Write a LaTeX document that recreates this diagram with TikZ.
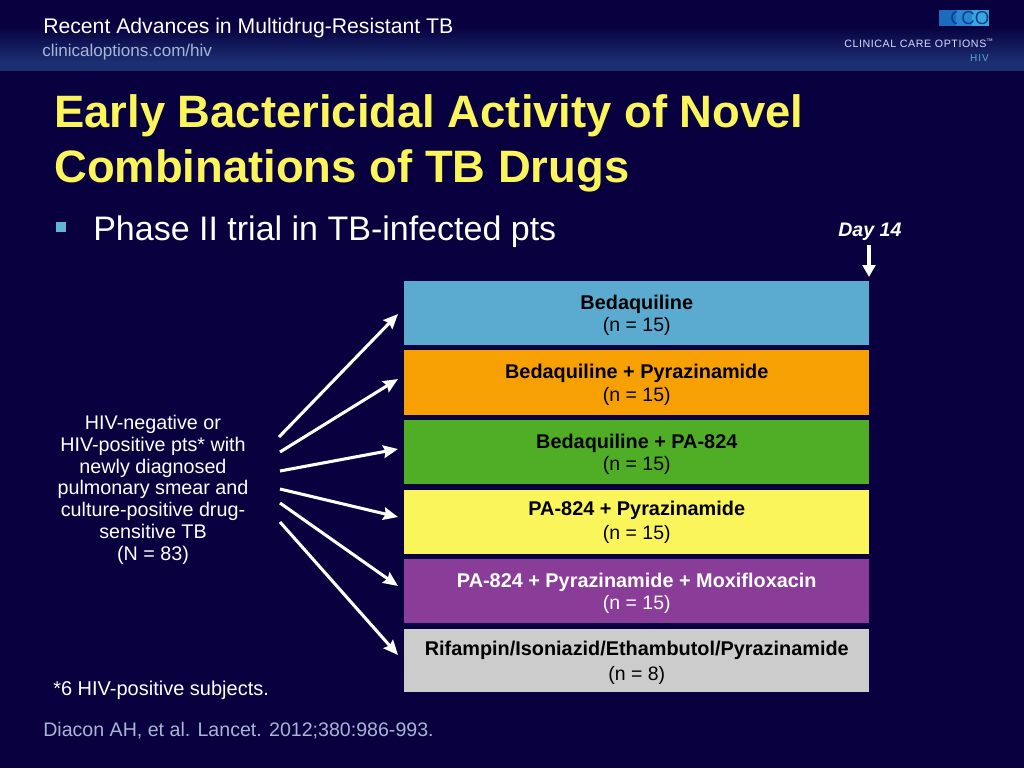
\documentclass[tikz,border=0pt]{standalone}
\usepackage{fontspec}
\setmainfont{Liberation Sans}
\usetikzlibrary{arrows.meta}
\definecolor{bgc}{HTML}{08003F}
\definecolor{hdr}{HTML}{1B2F72}
\definecolor{ttl}{HTML}{F9F55A}
\definecolor{subt}{HTML}{A9B4D6}
\definecolor{bull}{HTML}{62B5D6}
\definecolor{cblue}{HTML}{5BAACF}
\definecolor{corange}{HTML}{F7A004}
\definecolor{cgreen}{HTML}{4FAE26}
\definecolor{cyellow}{HTML}{F9F55A}
\definecolor{cpurple}{HTML}{8A3D98}
\definecolor{cgrey}{HTML}{CCCCCC}
\definecolor{lgo}{HTML}{1A6CBE}
\definecolor{lgb}{HTML}{2A86D2}
\definecolor{lgc}{HTML}{3BA6DE}
\definecolor{lgd}{HTML}{0B3F8C}
\tikzset{
  x=0.75pt,y=-0.75pt,
  armbox/.style={minimum width=348.75pt,inner sep=0pt,align=center,anchor=north west,text=black,font=\fontsize{14.6}{17}\selectfont},
  whitearrow/.style={draw=white,line width=2.3pt,-{Stealth[length=11pt,width=9.5pt,inset=1.5pt]}},
  plain/.style={inner sep=0pt,anchor=base west,text=white},
  logoletter/.style={inner sep=0pt,text=lgd,font=\fontsize{14}{14}\selectfont},
}
\newcommand{\armb}[1]{{\fontsize{14.9}{17}\selectfont\textbf{#1}}}
\newcommand{\armtext}[2]{\rule{0pt}{14pt}\armb{#1}\\#2}
\begin{document}
\begin{tikzpicture}
\useasboundingbox (0,0) rectangle (1024,768);
\fill[bgc] (0,0) rectangle (1024,768);
\shade[top color=bgc,bottom color=hdr] (0,26) rectangle (1024,62);
\fill[hdr] (0,62) rectangle (1024,71);

\node[plain,font=\fontsize{15.9}{18}\selectfont] (hd) at (43,33) {Recent Advances in Multidrug-Resistant TB};
\node[plain,text=subt,font=\fontsize{12.8}{15}\selectfont] (url) at (42,56) {clinicaloptions.com/hiv};

% logo
\fill[lgo] (939,10) rectangle (956,26);
\fill[lgb] (956,10) rectangle (972,26);
\fill[lgc] (972,10) rectangle (989,26);
\begin{scope}
\clip (939,10) rectangle (956,26);
\node[logoletter] (l1) at (957,18) {C};
\end{scope}
\node[logoletter] (l2) at (968,18) {C};
\node[logoletter] (l3) at (982,18) {O};
\node[inner sep=0pt,anchor=base east,text=white!85!blue,font=\fontsize{8}{9}\selectfont] (cco) at (994,47) {\addfontfeature{LetterSpace=5.5}CLINICAL CARE OPTIONS\textsuperscript{\tiny ™}};
\node[inner sep=0pt,anchor=base east,text=cblue,font=\fontsize{7.5}{9}\selectfont] (hv) at (989,61) {\addfontfeature{LetterSpace=10}HIV};

% title
\node[plain,text=ttl,font=\bfseries\fontsize{34.05}{40}\selectfont] (t1) at (54,127) {Early Bactericidal Activity of Novel};
\node[plain,text=ttl,font=\bfseries\fontsize{34.05}{40}\selectfont] (t2) at (54,182) {Combinations of TB Drugs};

% bullet
\fill[bull] (56,222) rectangle (66,232);
\node[plain,font=\fontsize{25.5}{28}\selectfont] (b1) at (93,240) {Phase II trial in TB-infected pts};

% day 14
\node[plain,font=\bfseries\itshape\fontsize{14.7}{16}\selectfont] (day) at (838,236) {Day 14};
\coordinate (d0) at (869,245);
\coordinate (d1) at (869,277);
\draw[draw=white,line width=2.6pt,-{Stealth[length=9pt,width=9.5pt,inset=0pt]}] (d0) -- (d1);

% arms
\node[armbox,fill=cblue,minimum height=48pt] (a1) at (404,281) {\armtext{Bedaquiline}{(n = 15)}};
\node[armbox,fill=corange,minimum height=48.75pt] (a2) at (404,350) {\armtext{Bedaquiline + Pyrazinamide}{(n = 15)}};
\node[armbox,fill=cgreen,minimum height=48pt] (a3) at (404,420) {\armtext{Bedaquiline + PA-824}{(n = 15)}};
\node[armbox,fill=cyellow,minimum height=48pt] (a4) at (404,490) {\armb{PA-824 + Pyrazinamide}\\[1.5pt](n = 15)};
\node[armbox,fill=cpurple,text=white,minimum height=48pt] (a5) at (404,559) {\armtext{PA-824 + Pyrazinamide + Moxifloxacin}{(n = 15)}};
\node[armbox,fill=cgrey,minimum height=47.25pt] (a6) at (404,629) {\rule{0pt}{14pt}\armb{Rifampin/Isoniazid/Ethambutol/Pyrazinamide}\\[1.5pt](n = 8)};

% source
\node[inner sep=0pt,text=white,align=center,anchor=north,font=\fontsize{14.8}{16.35}\selectfont] (src) at (153,415)
 {HIV-negative or\\HIV-positive pts* with\\newly diagnosed\\pulmonary smear and\\culture-positive drug-\\sensitive TB\\(N = 83)};

\coordinate (s1) at (279,437); \coordinate (e1) at (398,314);
\coordinate (s2) at (280,452); \coordinate (e2) at (398,379);
\coordinate (s3) at (280,471); \coordinate (e3) at (398,449);
\coordinate (s4) at (280,489); \coordinate (e4) at (398,517);
\coordinate (s5) at (280,503); \coordinate (e5) at (398,586);
\coordinate (s6) at (280,522); \coordinate (e6) at (398,655);
\foreach \i in {1,...,6} \draw[whitearrow] (s\i) -- (e\i);

\node[plain,font=\fontsize{15}{16}\selectfont] (fn) at (53,695) {*6 HIV-positive subjects.};
\node[plain,text=subt,font=\fontsize{14.7}{16}\selectfont] (ref) at (43,736) {Diacon AH, et al. Lancet. 2012;380:986-993.};
\end{tikzpicture}
\end{document}
